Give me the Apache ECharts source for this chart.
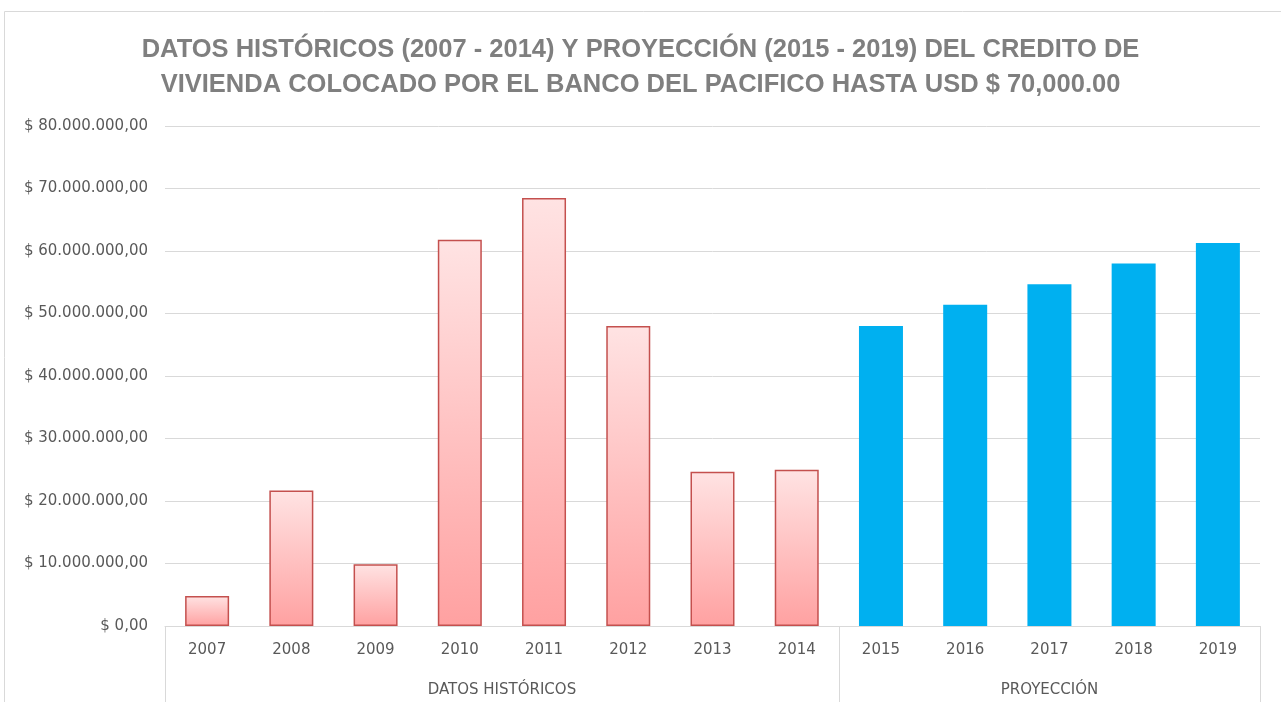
<!DOCTYPE html>
<html>
<head>
<meta charset="utf-8">
<script src="https://cdn.jsdelivr.net/npm/echarts@6/dist/echarts.min.js"></script>
<style>
  html, body { margin: 0; padding: 0; background: #fff; }
  #main { width: 1281px; height: 702px; }
</style>
</head>
<body>
<div id="main"></div>
<script>
// datos
var years = ['2007', '2008', '2009', '2010', '2011', '2012', '2013', '2014',
             '2015', '2016', '2017', '2018', '2019'];
var historicos = [4800000, 21700000, 9900000, 61800000, 68500000, 48000000, 24700000, 25000000];
var proyeccion = [48000000, 51400000, 54700000, 58000000, 61300000];
var groups = ['DATOS HISTÓRICOS', 'PROYECCIÓN'];
var yTicks = [0, 10000000, 20000000, 30000000, 40000000, 50000000, 60000000, 70000000, 80000000];

var nHist = historicos.length;
var nAll = years.length;

var histData = years.map(function (y, i) { return i < nHist ? historicos[i] : '-'; });
var proyData = years.map(function (y, i) { return i >= nHist ? proyeccion[i - nHist] : '-'; });

function money(v) {
    return '$ ' + String(v).replace(/\B(?=(\d{3})+(?!\d))/g, '.') + ',00';
}

var font = '"DejaVu Sans", sans-serif';
var titleFont = '"Liberation Sans", Arial, sans-serif';

var myChart = echarts.init(document.getElementById('main'));
myChart.setOption({
    animation: false,
    textStyle: { fontFamily: font },
    title: {
        text: 'DATOS HISTÓRICOS (2007 - 2014) Y PROYECCIÓN (2015 - 2019) DEL CREDITO DE\nVIVIENDA COLOCADO POR EL BANCO DEL PACIFICO HASTA USD $ 70,000.00',
        left: 'center',
        top: 27,
        textStyle: {
            fontFamily: titleFont,
            fontSize: 25.5,
            fontWeight: 'bold',
            color: '#7f7f7f',
            lineHeight: 35,
            align: 'center'
        }
    },
    graphic: [{
        type: 'rect',
        silent: true,
        shape: { x: 4.5, y: 11.5, width: 1300, height: 720 },
        style: { fill: 'none', stroke: '#d9d9d9', lineWidth: 1 }
    }],
    grid: { left: 165, right: 21, top: 126, bottom: 76 },
    xAxis: [
        {
            type: 'category',
            data: years,
            axisLine: { lineStyle: { color: '#d9d9d9' } },
            axisTick: { show: false },
            axisLabel: { color: '#595959', fontSize: 15, margin: 17, fontFamily: font }
        },
        {
            type: 'value',
            position: 'bottom',
            min: 0,
            max: nAll,
            axisLine: { show: false },
            splitLine: { show: false },
            axisTick: {
                show: true,
                customValues: [0, nHist, nAll],
                length: 80,
                lineStyle: { color: '#d9d9d9' }
            },
            axisLabel: {
                customValues: [nHist / 2, (nHist + nAll) / 2],
                formatter: function (v) { return v < nHist ? groups[0] : groups[1]; },
                color: '#595959',
                fontSize: 15,
                margin: 57,
                fontFamily: font
            }
        }
    ],
    yAxis: {
        type: 'value',
        min: 0,
        max: yTicks[yTicks.length - 1],
        interval: yTicks[1] - yTicks[0],
        axisLine: { show: false },
        axisTick: { show: false },
        splitLine: { lineStyle: { color: '#d9d9d9' } },
        axisLabel: { formatter: money, color: '#595959', fontSize: 15, margin: 17, fontFamily: font }
    },
    series: [
        {
            name: groups[0],
            type: 'bar',
            xAxisIndex: 0,
            data: histData,
            barWidth: 44,
            barGap: '-100%',
            itemStyle: {
                color: new echarts.graphic.LinearGradient(0, 0, 0, 1, [
                    { offset: 0, color: '#ffe3e3' },
                    { offset: 1, color: '#ffa1a1' }
                ]),
                borderColor: '#c4504e',
                borderWidth: 1.5
            }
        },
        {
            name: groups[1],
            type: 'bar',
            xAxisIndex: 0,
            data: proyData,
            barWidth: 44,
            barGap: '-100%',
            itemStyle: { color: '#00b0f0' }
        }
    ]
});
</script>
</body>
</html>
